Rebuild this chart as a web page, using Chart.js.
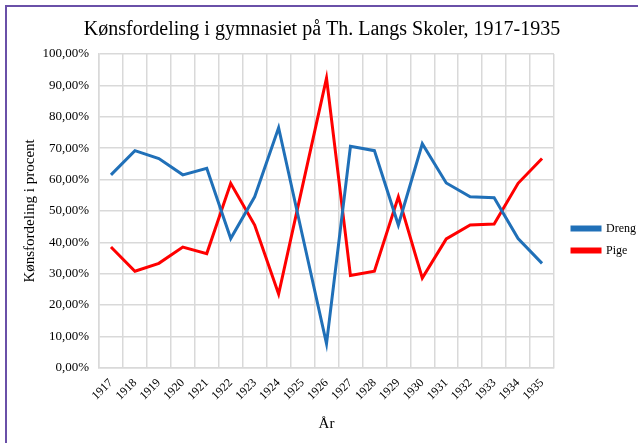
<!DOCTYPE html>
<html>
<head>
<meta charset="utf-8">
<script src="https://cdn.jsdelivr.net/npm/chart.js@4.4.1/dist/chart.umd.min.js"></script>
<style>
  html, body { margin: 0; padding: 0; background: #fff; }
  #wrap { position: relative; width: 638px; height: 443px; }
  #frame { position: absolute; left: 5px; top: 5px; right: -10px; bottom: -10px;
           border-left: 2px solid #6a50a8; border-top: 2px solid #6a50a8; pointer-events: none; }
</style>
</head>
<body>
<div id="wrap">
  <canvas id="chart" width="638" height="443"></canvas>
  <div id="frame"></div>
</div>
<script>
const years = ['1917', '1918', '1919', '1920', '1921', '1922', '1923', '1924', '1925', '1926',
  '1927', '1928', '1929', '1930', '1931', '1932', '1933', '1934', '1935']
const dreng = [61.5, 69.2, 66.7, 61.5, 63.6, 41.2, 54.5, 76.5, 42.0, 7.7,
  70.6, 69.2, 45.5, 71.4, 58.9, 54.5, 54.2, 41.2, 33.3]
const pige = [38.5, 30.8, 33.3, 38.5, 36.4, 58.8, 45.5, 23.5, 58.0, 92.3,
  29.4, 30.8, 54.5, 28.6, 41.1, 45.5, 45.8, 58.8, 66.7]
const yTicks = [0, 10, 20, 30, 40, 50, 60, 70, 80, 90, 100]

const serif = '"Liberation Serif", "Times New Roman", serif'
const grid = '#d9d9d9'

// nudge the legend to where Excel put it
const moveLegend = {
  id: 'moveLegend',
  afterLayout(chart) {
    const l = chart.legend
    l.left += 8; l.right += 8
    l.top += 19; l.bottom += 19
  }
}

new Chart(document.getElementById('chart'), {
  type: 'line',
  data: {
    labels: years,
    datasets: [
      { label: 'Dreng', data: dreng, borderColor: '#2070b8', backgroundColor: '#2070b8' },
      { label: 'Pige', data: pige, borderColor: '#ff0000', backgroundColor: '#ff0000' }
    ]
  },
  options: {
    responsive: false,
    animation: false,
    layout: { padding: { left: 6, right: 0, top: 4, bottom: 6 } },
    elements: {
      line: { borderWidth: 3, tension: 0 },
      point: { radius: 0 }
    },
    plugins: {
      title: {
        display: true,
        text: 'Kønsfordeling i gymnasiet på Th. Langs Skoler, 1917-1935',
        color: '#000',
        font: { family: serif, size: 20, weight: 'normal' },
        padding: { top: 14, bottom: 12 }
      },
      legend: {
        position: 'right',
        labels: {
          color: '#000',
          font: { family: serif, size: 12 },
          boxWidth: 28,
          boxHeight: 3,
          padding: 10
        }
      },
      tooltip: { enabled: false }
    },
    scales: {
      x: {
        offset: true,
        grid: { offset: true, color: grid, lineWidth: 1.5, drawTicks: false },
        border: { color: grid, width: 1.5 },
        ticks: {
          color: '#000',
          font: { family: serif, size: 12 },
          autoSkip: false,
          minRotation: 45,
          maxRotation: 45,
          padding: 8
        },
        title: {
          display: true,
          text: 'År',
          color: '#000',
          font: { family: serif, size: 15 },
          padding: { top: 4, bottom: 4 }
        }
      },
      y: {
        min: 0,
        max: 100,
        afterBuildTicks(scale) { scale.ticks = yTicks.map(v => ({ value: v })) },
        afterFit(scale) { scale.width = 93 },
        grid: { color: grid, lineWidth: 1.5, drawTicks: false },
        border: { color: grid, width: 1.5 },
        ticks: {
          color: '#000',
          font: { family: serif, size: 13 },
          padding: 10,
          callback: v => v.toFixed(2).replace('.', ',') + '%'
        },
        title: {
          display: true,
          text: 'Kønsfordeling i procent',
          color: '#000',
          font: { family: serif, size: 15 },
          padding: { top: 15, bottom: 4 }
        }
      }
    }
  },
  plugins: [moveLegend]
})
</script>
</body>
</html>
